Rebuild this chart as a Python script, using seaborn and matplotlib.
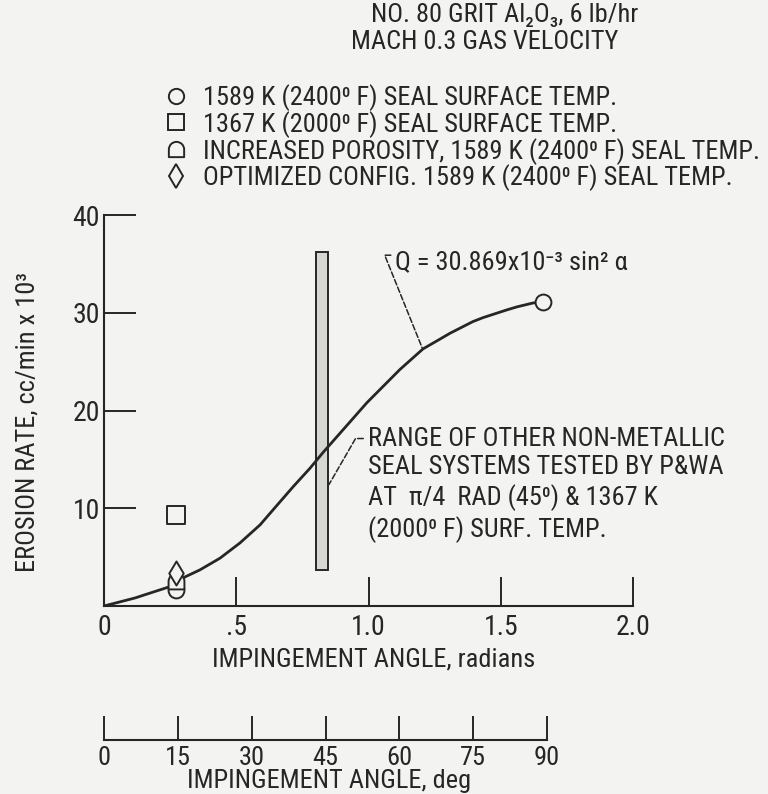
import matplotlib
matplotlib.use("Agg")
import matplotlib.pyplot as plt
from matplotlib import font_manager
from matplotlib.path import Path
from matplotlib.lines import Line2D
import seaborn as sns

# ---------------- data ----------------
curve_x = [0.0, 0.117, 0.257, 0.306, 0.363, 0.439, 0.514, 0.590, 0.654, 0.715,
           0.779, 0.828, 0.994, 1.119, 1.206, 1.270, 1.308, 1.395, 1.433, 1.524,
           1.561, 1.622, 1.66]
curve_y = [0.0, 0.82, 2.05, 2.97, 3.7, 4.9, 6.45, 8.3, 10.3, 12.2,
           14.1, 15.7, 20.8, 24.2, 26.3, 27.3, 27.9, 29.1, 29.5, 30.3,
           30.6, 31.0, 31.1]

series_names = ["1589 K (2400⁰ F) SEAL SURFACE TEMP.",
                "1367 K (2000⁰ F) SEAL SURFACE TEMP.",
                "INCREASED POROSITY, 1589 K (2400⁰ F) SEAL TEMP.",
                "OPTIMIZED CONFIG. 1589 K (2400⁰ F) SEAL TEMP."]
circle_x = [0.272, 1.66]
circle_y = [1.6, 31.1]
square_x = [0.272]
square_y = [9.3]
porosity_x = [0.272]
porosity_y = [2.6]
optim_x = [0.272]
optim_y = [3.4]

range_x = [0.824]
range_low = [3.7]
range_high = [36.2]

x_ticks = [0, 0.5, 1.0, 1.5, 2.0]
x_ticklabels = ["0", ".5", "1.0", "1.5", "2.0"]
y_ticks = [10, 20, 30, 40]
y_ticklabels = ["10", "20", "30", "40"]
deg_ticks = [0, 15, 30, 45, 60, 75, 90]
deg_ticklabels = ["0", "15", "30", "45", "60", "75", "90"]

header_lines = ["NO. 80 GRIT Al₂O₃, 6 lb/hr", "MACH 0.3 GAS VELOCITY"]
formula_text = "Q = 30.869x10⁻³ sin² α"
range_text = ("RANGE OF OTHER NON-METALLIC\nSEAL SYSTEMS TESTED BY P&WA\n"
              "AT  π/4  RAD (45⁰) & 1367 K\n(2000⁰ F) SURF. TEMP.")

# ---------------- style ----------------
sns.set_theme(style="white")
available = {f.name for f in font_manager.fontManager.ttflist}
chosen = None
for cand in ["Roboto Condensed", "Liberation Sans Narrow", "Open Sans Condensed"]:
    if cand in available:
        chosen = cand
        break
if chosen is None:
    FONT = ["DejaVu Sans"]
    plt.rcParams["font.stretch"] = "condensed"
else:
    FONT = [chosen, "DejaVu Sans"]
INK = "#262626"
BG = "#f3f3f1"
plt.rcParams["font.family"] = FONT
plt.rcParams["text.color"] = INK
plt.rcParams["axes.labelcolor"] = INK
plt.rcParams["xtick.color"] = INK
plt.rcParams["ytick.color"] = INK

TXT = 19

W, H = 768, 794
fig = plt.figure(figsize=(W / 100, H / 100), dpi=100, facecolor=BG)

def fx(px):
    return px / W

def fy(py):
    return 1 - py / H

# main axes: x 0..2 -> px 104..633 ; y 0..40 -> py 606..215
ax = fig.add_axes([fx(104), fy(606), (633 - 104) / W, (606 - 215) / H])
ax.set_facecolor("none")
ax.set_xlim(0, 2.0)
ax.set_ylim(0, 40)

# bar for range of other systems
ax.bar(range_x, [h - l for h, l in zip(range_high, range_low)], bottom=range_low,
       width=0.042, color="#d6d6d3", edgecolor=INK, linewidth=1.4, zorder=2)

# curve
sns.lineplot(x=curve_x, y=curve_y, ax=ax, color=INK, linewidth=2.0, sort=False,
             estimator=None, zorder=3)

# D-shaped marker (flat bottom, rounded top)
arc = Path.arc(0, 180)
verts = [(-1, -1), (1, -1)] + list(arc.vertices) + [(-1, -1)]
codes = [Path.MOVETO, Path.LINETO] + [Path.LINETO] + list(arc.codes[1:]) + [Path.CLOSEPOLY]
dome = Path(verts, codes)

marker_list = ["o", "s", dome, "d"]
sizes = [130, 150, 130, 150]
xs = [circle_x, square_x, porosity_x, optim_x]
ys = [circle_y, square_y, porosity_y, optim_y]
for mk, sz, xx, yy in zip(marker_list, sizes, xs, ys):
    sns.scatterplot(x=xx, y=yy, ax=ax, marker=mk, s=sz, facecolor=BG,
                    edgecolor=INK, linewidth=1.4, zorder=4)

# spines & ticks
for s in ["top", "right"]:
    ax.spines[s].set_visible(False)
for s in ["left", "bottom"]:
    ax.spines[s].set_color(INK)
    ax.spines[s].set_linewidth(1.5)
ax.set_xticks(x_ticks)
ax.set_xticklabels(x_ticklabels)
ax.set_yticks(y_ticks)
ax.set_yticklabels(y_ticklabels)
ax.tick_params(axis="x", bottom=True, direction="in", length=21, width=1.4, pad=6,
               labelsize=20)
ax.tick_params(axis="y", left=True, direction="in", length=23, width=1.4, pad=3,
               labelsize=20)
ax.set_xlabel("IMPINGEMENT ANGLE, radians", fontsize=TXT, va="center")
ax.xaxis.set_label_coords(fx(374), fy(659), transform=fig.transFigure)
ax.set_ylabel("EROSION RATE, cc/min x 10³", fontsize=TXT, va="center")
ax.yaxis.set_label_coords(fx(28), fy(422), transform=fig.transFigure)
ax.grid(False)

# annotations
ax.annotate(formula_text, xy=(1.203, 26.4), xytext=(1.102, 35.2), fontsize=TXT,
            ha="left", va="center", color=INK,
            arrowprops=dict(arrowstyle="-", linestyle="--", color=INK, lw=1.1,
                            shrinkA=1, shrinkB=0, relpos=(0.0, 0.78),
                            connectionstyle="angle,angleA=0,angleB=112,rad=0"))
ax.annotate(range_text, xy=(0.85, 12.4), xytext=(0.998, 12.4), fontsize=TXT,
            ha="left", va="center", color=INK, linespacing=1.23,
            arrowprops=dict(arrowstyle="-", linestyle="--", color=INK, lw=1.1,
                            shrinkA=1, shrinkB=0, relpos=(0.0, 0.9),
                            connectionstyle="angle,angleA=0,angleB=60,rad=0"))

# degree axis
ax2 = fig.add_axes([fx(104), fy(740), (547 - 104) / W, 0.001])
ax2.set_facecolor("none")
ax2.set_xlim(0, 90)
ax2.set_yticks([])
for s in ["top", "right", "left"]:
    ax2.spines[s].set_visible(False)
ax2.spines["bottom"].set_color(INK)
ax2.spines["bottom"].set_linewidth(1.5)
ax2.set_xticks(deg_ticks)
ax2.set_xticklabels(deg_ticklabels)
ax2.tick_params(axis="x", bottom=True, direction="in", length=17, width=1.4, pad=4,
                labelsize=19)
ax2.set_xlabel("IMPINGEMENT ANGLE, deg", fontsize=TXT, va="center")
ax2.xaxis.set_label_coords(fx(329), fy(781), transform=fig.transFigure)

# header and legend
fig.text(fx(505), fy(15), header_lines[0], ha="center", va="center", fontsize=TXT)
fig.text(fx(485), fy(42), header_lines[1], ha="center", va="center", fontsize=TXT)

handles = [Line2D([], [], linestyle="none", marker=m, markersize=ms,
                  markerfacecolor=BG, markeredgecolor=INK, markeredgewidth=1.4)
           for m, ms in zip(marker_list, [11, 12, 11, 12])]
fig.legend(handles, series_names, loc="upper left",
           bbox_to_anchor=(fx(163), fy(84)), frameon=False, fontsize=TXT,
           handlelength=1.0, handletextpad=0.5, labelspacing=0.0, borderpad=0,
           borderaxespad=0)

fig.savefig("out.png", dpi=100, facecolor=BG)
